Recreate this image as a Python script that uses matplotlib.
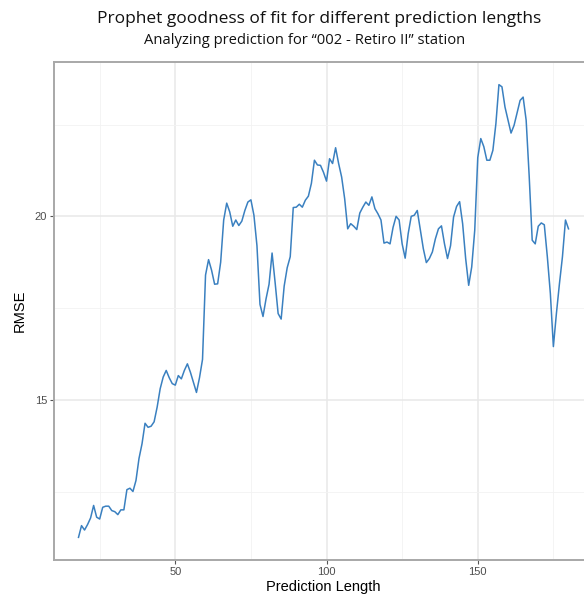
import matplotlib
matplotlib.use("Agg")
import matplotlib.pyplot as plt
from matplotlib.ticker import MultipleLocator
import numpy as np

# prediction length (days) and RMSE
pred_len = list(range(18, 181))
rmse = [
    11.25, 11.57, 11.45, 11.60, 11.78, 12.12, 11.80, 11.75, 12.07, 12.10,
    12.10, 11.98, 11.95, 11.87, 12.00, 12.00, 12.55, 12.59, 12.50, 12.80,
    13.40, 13.80, 14.36, 14.25, 14.28, 14.40, 14.80, 15.30, 15.62, 15.80,
    15.60, 15.44, 15.40, 15.66, 15.57, 15.80, 15.98, 15.75, 15.48, 15.20,
    15.60, 16.10, 18.40, 18.82, 18.53, 18.15, 18.16, 18.75, 19.90, 20.36,
    20.12, 19.73, 19.90, 19.75, 19.87, 20.16, 20.39, 20.45, 20.03, 19.20,
    17.60, 17.27, 17.75, 18.15, 19.00, 18.20, 17.35, 17.20, 18.10, 18.60,
    18.90, 20.24, 20.25, 20.33, 20.25, 20.44, 20.55, 20.90, 21.53, 21.40,
    21.39, 21.20, 20.96, 21.57, 21.44, 21.87, 21.44, 21.07, 20.48, 19.66,
    19.80, 19.73, 19.64, 20.09, 20.25, 20.39, 20.30, 20.53, 20.21, 20.07,
    19.90, 19.27, 19.30, 19.25, 19.70, 20.00, 19.90, 19.25, 18.86, 19.53,
    20.00, 20.03, 20.16, 19.64, 19.12, 18.74, 18.85, 19.03, 19.39, 19.66,
    19.74, 19.25, 18.85, 19.20, 19.98, 20.27, 20.40, 19.80, 18.85, 18.12,
    18.62, 19.62, 21.60, 22.12, 21.90, 21.53, 21.53, 21.80, 22.53, 23.59,
    23.53, 22.98, 22.62, 22.27, 22.48, 22.82, 23.16, 23.25, 22.62, 21.10,
    19.35, 19.25, 19.73, 19.82, 19.77, 18.90, 17.90, 16.45, 17.35, 18.16,
    18.90, 19.90, 19.66,
]

fig = plt.figure(figsize=(5.84, 5.97), dpi=100)
# panel runs past the right edge of the image, as in the reference
ax = fig.add_axes([54 / 584, 37 / 597, 539 / 584, 498 / 597])

ax.plot(pred_len, rmse, color="#3a80c0", lw=1.1)

span = max(pred_len) - min(pred_len)
ax.set_xlim(min(pred_len) - 0.05 * span, max(pred_len) + 0.05 * span)
yspan = max(rmse) - min(rmse)
ax.set_ylim(min(rmse) - 0.05 * yspan, max(rmse) + 0.05 * yspan)

ax.xaxis.set_major_locator(MultipleLocator(50))
ax.xaxis.set_minor_locator(MultipleLocator(25))
ax.yaxis.set_major_locator(MultipleLocator(5))
ax.yaxis.set_minor_locator(MultipleLocator(2.5))

ax.grid(which="major", color="#e8e8e8", lw=1.1)
ax.grid(which="minor", color="#f2f2f2", lw=0.6)
ax.set_axisbelow(True)

for s in ax.spines.values():
    s.set_color("#a8a8a8")
    s.set_linewidth(1.4)

ax.tick_params(which="major", length=3, width=0.8, color="#555555",
               labelsize=8, labelcolor="#4d4d4d", pad=2)
ax.tick_params(which="minor", length=0)
for lab in ax.get_xticklabels() + ax.get_yticklabels():
    lab.set_family("Liberation Sans")

ax.set_xlabel("Prediction Length", family="Liberation Sans", fontsize=10.5, labelpad=2)
ax.set_ylabel("RMSE", family="Liberation Sans", fontsize=10.5, labelpad=6)

fig.text(0.546, 0.968, "Prophet goodness of fit for different prediction lengths",
         ha="center", va="center", family="Open Sans", fontsize=12.5, color="#111111")
fig.text(0.522, 0.932, "Analyzing prediction for \u201c002 - Retiro II\u201d station",
         ha="center", va="center", family="Open Sans", fontsize=10.6, color="#111111")

fig.savefig("out.png", dpi=100)
